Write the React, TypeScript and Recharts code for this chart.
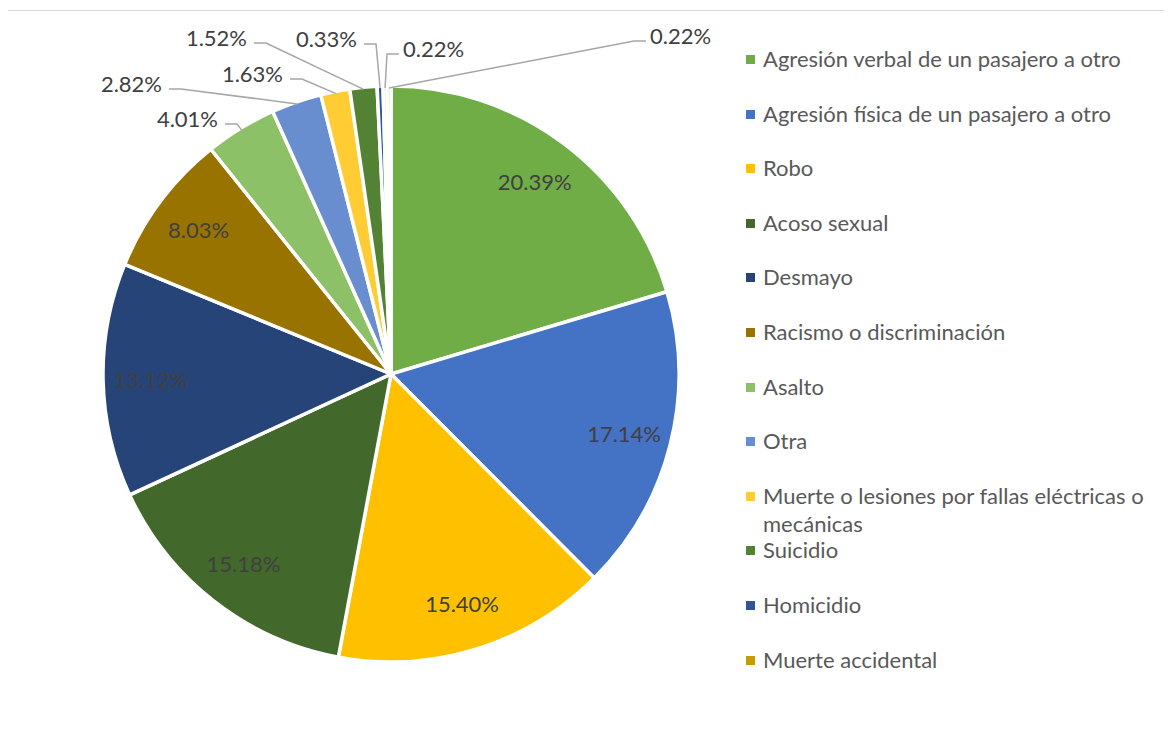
import React from 'react';
import { PieChart, Pie, Cell, Legend } from 'recharts';

const categories = [
  'Agresión verbal de un pasajero a otro',
  'Agresión física de un pasajero a otro',
  'Robo',
  'Acoso sexual',
  'Desmayo',
  'Racismo o discriminación',
  'Asalto',
  'Otra',
  'Muerte o lesiones por fallas eléctricas o mecánicas',
  'Suicidio',
  'Homicidio',
  'Muerte accidental',
  'Sin categoría',
];

const values = [20.39, 17.14, 15.4, 15.18, 13.12, 8.03, 4.01, 2.82, 1.63, 1.52, 0.33, 0.22, 0.22];

const colors = [
  '#70AD47', '#4472C4', '#FFC000', '#43682B', '#264478', '#997300',
  '#8CC168', '#698ED0', '#FFCD33', '#548235', '#2F5597', '#C89B00', '#A9D18E',
];

const legendCount = 12;

// Label layout for small slices: text anchor offset from pie centre and side
const outsideLabels: Record<number, { dx: number; dy: number; side: 'left' | 'right' }> = {
  6: { dx: -173, dy: -256, side: 'left' },
  7: { dx: -229, dy: -291, side: 'left' },
  8: { dx: -108, dy: -301, side: 'left' },
  9: { dx: -144, dy: -337, side: 'left' },
  10: { dx: -34, dy: -336, side: 'left' },
  11: { dx: 12, dy: -326, side: 'right' },
  12: { dx: 259, dy: -339, side: 'right' },
};

const data = categories.map((name, i) => ({ name, value: values[i] }));

const FONT = 'Lato, "Open Sans", sans-serif';
const TEXT = '#404040';
const RAD = Math.PI / 180;

const renderLabel = (props: any) => {
  const { cx, cy, midAngle, outerRadius, index, value } = props;
  const txt = `${Number(value).toFixed(2)}%`;
  const o = outsideLabels[index];
  if (!o) {
    const r = outerRadius * 0.835;
    const x = cx + r * Math.cos(-midAngle * RAD);
    const y = cy + r * Math.sin(-midAngle * RAD);
    return (
      <text x={x} y={y} fill={TEXT} fontSize={22} fontFamily={FONT} textAnchor="middle" dominantBaseline="central">
        {txt}
      </text>
    );
  }
  const sx = cx + (outerRadius - 2) * Math.cos(-midAngle * RAD);
  const sy = cy + (outerRadius - 2) * Math.sin(-midAngle * RAD);
  const tx = cx + o.dx;
  const ty = cy + o.dy;
  const ly = ty + 6;
  const endX = o.side === 'left' ? tx + 7 : tx - 4;
  const elbowX = o.side === 'left' ? endX + 12 : endX - 12;
  return (
    <g>
      <polyline
        points={`${sx},${sy} ${elbowX},${ly} ${endX},${ly}`}
        fill="none"
        stroke="#A6A6A6"
        strokeWidth={1.5}
      />
      <text
        x={tx}
        y={ty}
        fill={TEXT}
        fontSize={22}
        fontFamily={FONT}
        textAnchor={o.side === 'left' ? 'end' : 'start'}
        dominantBaseline="central"
      >
        {txt}
      </text>
    </g>
  );
};

const renderLegend = () => (
  <div style={{ fontFamily: FONT, fontSize: 22, color: '#595959' }}>
    {categories.slice(0, legendCount).map((name, i) => (
      <div key={name} style={{ position: 'relative', height: 54.6, width: 420 }}>
        <div
          style={{
            position: 'absolute',
            left: 0,
            top: 9,
            width: 9,
            height: 9,
            background: colors[i],
          }}
        />
        <div style={{ position: 'absolute', left: 17, top: -1, width: 405, lineHeight: '28px' }}>{name}</div>
      </div>
    ))}
  </div>
);

export default function App() {
  return (
    <div style={{ position: 'relative', width: 1172, height: 733, margin: -8, overflow: 'hidden', background: '#fff' }}>
      <div
        style={{
          position: 'absolute',
          left: 6,
          top: 10,
          width: 1300,
          height: 900,
          borderTop: '1.5px solid #D9D9D9',
          borderLeft: '2px solid #D9D9D9',
        }}
      />
      <div style={{ position: 'absolute', left: 0, top: 0 }}>
        <PieChart width={1172} height={733} margin={{ top: 0, right: 0, bottom: 0, left: 0 }}>
          <Pie
            data={data}
            dataKey="value"
            nameKey="name"
            cx={391}
            cy={374}
            outerRadius={288}
            startAngle={90}
            endAngle={-270}
            stroke="#FFFFFF"
            strokeWidth={3.5}
            label={renderLabel}
            labelLine={false}
            isAnimationActive={false}
          >
            {data.map((d, i) => (
              <Cell key={d.name} fill={colors[i]} />
            ))}
          </Pie>
          <Legend
            layout="vertical"
            align="right"
            verticalAlign="top"
            content={renderLegend}
            wrapperStyle={{ left: 746, top: 46, width: 420 }}
          />
        </PieChart>
      </div>
    </div>
  );
}
